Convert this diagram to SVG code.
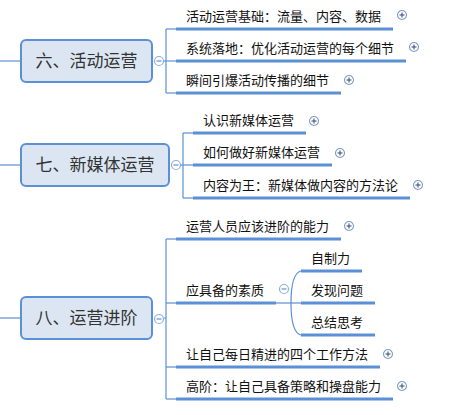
<svg xmlns="http://www.w3.org/2000/svg" width="452" height="415" viewBox="0 0 452 415">
<style>
.box{fill:#dce6f2;stroke:#5b8fd6;stroke-width:2}
.main{font-family:"Noto Sans CJK SC","Liberation Sans",sans-serif;font-size:17px;fill:#333;text-anchor:middle}
.t{font-family:"Noto Sans CJK SC","Liberation Sans",sans-serif;font-size:13px;fill:#111}
.ul{stroke:#5b8fd6;stroke-width:3;fill:none}
.ln{stroke:#5b8fd6;stroke-width:1.2;fill:none}
.ci{fill:#fff;stroke:#8eb0e0;stroke-width:1.2}
.sg{stroke:#6a8fc8;stroke-width:1.2}
.pc{fill:#fff;stroke:#7d9cc8;stroke-width:1.1}
.ps{stroke:#3f5478;stroke-width:1.1}
</style>
<defs>
<g id="minus"><circle class="ci" cx="0" cy="0" r="4.5"/><line class="sg" x1="-2.5" y1="0" x2="2.5" y2="0"/></g>
<g id="plus"><circle class="pc" cx="0" cy="0" r="4.5"/><line class="ps" x1="-2.5" y1="0" x2="2.5" y2="0"/><line class="ps" x1="0" y1="-2.5" x2="0" y2="2.5"/></g>
</defs>
<g id="connectors">
<line class="ln" x1="0" y1="61" x2="21" y2="61"/>
<line class="ln" x1="164" y1="61" x2="176" y2="61"/>
<line class="ln" x1="166" y1="29" x2="166" y2="93"/>
<line class="ln" x1="166" y1="29" x2="176" y2="29"/>
<line class="ln" x1="166" y1="93" x2="176" y2="93"/>
<line class="ln" x1="0" y1="165" x2="21" y2="165"/>
<line class="ln" x1="181" y1="165" x2="193" y2="165"/>
<line class="ln" x1="183" y1="133" x2="183" y2="198"/>
<line class="ln" x1="183" y1="133" x2="193" y2="133"/>
<line class="ln" x1="183" y1="198" x2="193" y2="198"/>
<line class="ln" x1="0" y1="318" x2="21" y2="318"/>
<line class="ln" x1="164" y1="318" x2="166" y2="318"/>
<line class="ln" x1="166" y1="239" x2="166" y2="399"/>
<line class="ln" x1="166" y1="239" x2="176" y2="239"/>
<line class="ln" x1="166" y1="303" x2="176" y2="303"/>
<line class="ln" x1="166" y1="367" x2="176" y2="367"/>
<line class="ln" x1="166" y1="399" x2="176" y2="399"/>
<line class="ln" x1="276" y1="303" x2="301" y2="303"/>
<path class="ln" d="M301 271 C293 273 291 288 291 303 C291 318 293 333 301 335"/>
</g>
<g id="n6">
<rect class="box" x="21" y="40" width="131" height="42" rx="5"/>
<text class="main" x="86.5" y="67">六、活动运营</text>
<use href="#minus" x="159" y="61"/>
</g>
<g id="n6-1"><text class="t" x="186" y="21">活动运营基础：流量、内容、数据</text><line class="ul" x1="176" y1="29" x2="393" y2="29"/><use href="#plus" x="402" y="15"/></g>
<g id="n6-2"><text class="t" x="186" y="53">系统落地：优化活动运营的每个细节</text><line class="ul" x1="176" y1="61" x2="406" y2="61"/><use href="#plus" x="414" y="47"/></g>
<g id="n6-3"><text class="t" x="186" y="85">瞬间引爆活动传播的细节</text><line class="ul" x1="176" y1="93" x2="341" y2="93"/><use href="#plus" x="349" y="80"/></g>
<g id="n7">
<rect class="box" x="21" y="144" width="148" height="42" rx="5"/>
<text class="main" x="95" y="171">七、新媒体运营</text>
<use href="#minus" x="176" y="165"/>
</g>
<g id="n7-1"><text class="t" x="203" y="125">认识新媒体运营</text><line class="ul" x1="193" y1="133" x2="306" y2="133"/><use href="#plus" x="314" y="121"/></g>
<g id="n7-2"><text class="t" x="203" y="157">如何做好新媒体运营</text><line class="ul" x1="193" y1="165" x2="332" y2="165"/><use href="#plus" x="340" y="153"/></g>
<g id="n7-3"><text class="t" x="203" y="190">内容为王：新媒体做内容的方法论</text><line class="ul" x1="193" y1="198" x2="410" y2="198"/><use href="#plus" x="418" y="185"/></g>
<g id="n8">
<rect class="box" x="21" y="297" width="131" height="42" rx="5"/>
<text class="main" x="86.5" y="324">八、运营进阶</text>
<use href="#minus" x="159" y="319"/>
</g>
<g id="n8-1"><text class="t" x="186" y="231">运营人员应该进阶的能力</text><line class="ul" x1="176" y1="239" x2="341" y2="239"/><use href="#plus" x="349" y="226"/></g>
<g id="n8-2"><text class="t" x="186" y="295">应具备的素质</text><line class="ul" x1="176" y1="303" x2="276" y2="303"/><use href="#minus" x="284" y="289"/></g>
<g id="n8-2-1"><text class="t" x="311" y="263">自制力</text><line class="ul" x1="301" y1="271" x2="362" y2="271"/></g>
<g id="n8-2-2"><text class="t" x="311" y="295">发现问题</text><line class="ul" x1="301" y1="303" x2="375" y2="303"/></g>
<g id="n8-2-3"><text class="t" x="311" y="327">总结思考</text><line class="ul" x1="301" y1="335" x2="375" y2="335"/></g>
<g id="n8-3"><text class="t" x="186" y="359">让自己每日精进的四个工作方法</text><line class="ul" x1="176" y1="367" x2="380" y2="367"/><use href="#plus" x="388" y="354"/></g>
<g id="n8-4"><text class="t" x="186" y="391">高阶：让自己具备策略和操盘能力</text><line class="ul" x1="176" y1="399" x2="393" y2="399"/><use href="#plus" x="402" y="386"/></g>
</svg>
